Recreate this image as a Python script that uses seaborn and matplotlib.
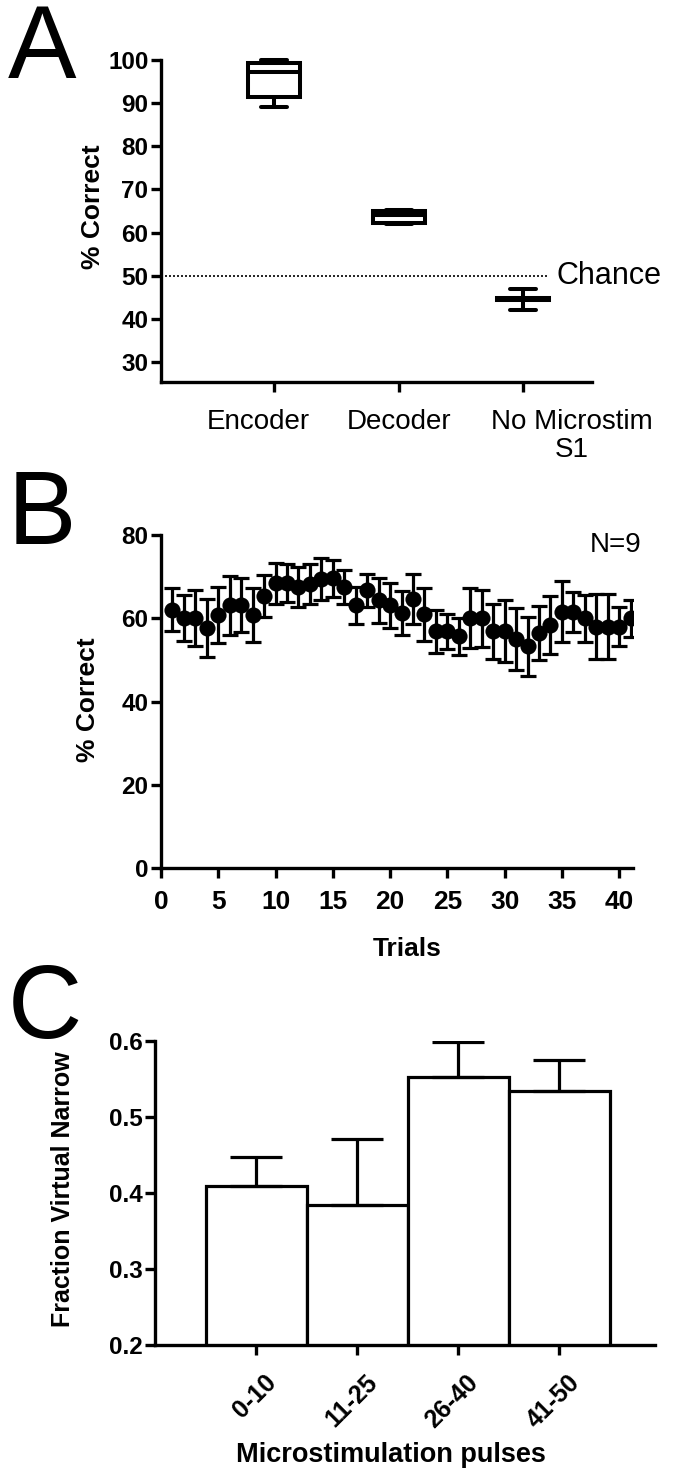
import matplotlib
matplotlib.use("Agg")
import matplotlib.pyplot as plt
import matplotlib.transforms as mtransforms
import numpy as np
import pandas as pd
import seaborn as sns

# -----------------------------
# Panel A: box plots of % correct
# -----------------------------
GROUPS = ["Encoder", "Decoder", "No Microstim\nS1"]
ENCODER_PCT = [89.0, 91.5, 97.2, 99.2, 100.0]
DECODER_PCT = [62.0, 62.2, 64.0, 65.0, 65.3]
NO_STIM_PCT = [42.0, 44.4, 44.6, 44.8, 47.0]
CHANCE = 50
A_YTICKS = [30, 40, 50, 60, 70, 80, 90, 100]

# -----------------------------
# Panel B: % correct per trial (mean +/- SEM)
# -----------------------------
TRIALS = list(range(1, 42))
PCT_MEAN = [62.1, 60.0, 60.0, 57.6, 60.8, 63.1, 63.1, 60.8, 65.3, 68.4,
            68.4, 67.5, 68.2, 69.4, 69.6, 67.5, 63.1, 66.7, 64.3, 63.1,
            61.2, 64.7, 61.0, 56.9, 56.9, 55.7, 60.0, 60.0, 56.9, 56.9,
            55.0, 53.3, 56.5, 58.4, 61.6, 61.6, 60.0, 58.0, 58.0, 58.0,
            60.0]
PCT_SEM = [5.1, 5.5, 6.7, 7.0, 6.8, 7.0, 6.5, 6.4, 5.0, 4.9,
           4.6, 4.8, 4.8, 5.0, 4.4, 4.0, 4.4, 3.9, 5.4, 5.5,
           5.3, 6.0, 6.4, 5.2, 4.2, 4.4, 7.2, 6.9, 6.6, 7.4,
           7.5, 7.1, 6.5, 6.9, 7.4, 4.8, 5.6, 7.8, 7.8, 4.7,
           4.4]
B_XTICKS = [0, 5, 10, 15, 20, 25, 30, 35, 40]
B_YTICKS = [0, 20, 40, 60, 80]
N_ANIMALS = 9

# -----------------------------
# Panel C: fraction virtual narrow vs pulses
# -----------------------------
PULSE_BINS = ["0-10", "11-25", "26-40", "41-50"]
FRAC_NARROW = [0.409, 0.384, 0.553, 0.534]
FRAC_SEM = [0.039, 0.087, 0.046, 0.041]
C_YTICKS = [0.2, 0.3, 0.4, 0.5, 0.6]

LW = 2.4
TICK_FS = 17.5
LABEL_FS = 19
# category label centres in panel A sit a bit off their ticks in the original
A_LABEL_X = [-0.13, 1.0, 2.39]


def style_axis(ax):
    sns.despine(ax=ax)
    for side in ["left", "bottom"]:
        ax.spines[side].set_linewidth(LW)
        ax.spines[side].set_color("black")
    ax.tick_params(axis="both", width=LW, length=7, labelsize=TICK_FS, pad=2,
                   color="black", labelcolor="black")
    for lab in ax.get_yticklabels():
        lab.set_fontweight("bold")


def panel_a(fig):
    ax = fig.add_axes([0.2392, 0.7405, 0.640, 0.2188])
    df = pd.DataFrame({
        "group": [GROUPS[0]] * len(ENCODER_PCT) + [GROUPS[1]] * len(DECODER_PCT)
        + [GROUPS[2]] * len(NO_STIM_PCT),
        "pct": ENCODER_PCT + DECODER_PCT + NO_STIM_PCT,
    })
    sns.boxplot(data=df, x="group", y="pct", order=GROUPS, ax=ax,
                width=0.42, whis=(0, 100), color="white", linecolor="black",
                linewidth=2.9, showfliers=False)
    for art in ax.lines + ax.patches:
        art.set_clip_on(False)

    ax.hlines(CHANCE, -0.91, 2.2, colors="black", linestyles=(0, (1.2, 1.2)), linewidth=1.2)
    ax.text(2.265, CHANCE, "Chance", fontsize=22, va="center", ha="left")

    ax.set_xlim(-0.91, 2.55)
    ax.set_ylim(25.4, 100)
    ax.set_yticks(A_YTICKS)
    ax.set_xlabel("")
    ax.set_ylabel("% Correct", fontsize=LABEL_FS, fontweight="bold")
    style_axis(ax)
    ax.tick_params(axis="x", length=7, labelbottom=False)
    for xpos, name in zip(A_LABEL_X, GROUPS):
        ax.text(xpos, -0.085, name, transform=ax.get_xaxis_transform(),
                fontsize=20, ha="center", va="top", multialignment="center",
                linespacing=1.1)
    ax.yaxis.set_label_coords(-0.13, 0.543)
    fig.text(0.012, 1 - 78 / 1472, "A", fontsize=74, va="baseline")


def panel_b(fig):
    ax = fig.add_axes([0.2392, 0.4103, 0.7013, 0.2262])
    ax.errorbar(TRIALS, PCT_MEAN, yerr=PCT_SEM, fmt="none", ecolor="black",
                elinewidth=2.3, capsize=5.8, capthick=2.3, zorder=2)
    sns.scatterplot(x=TRIALS, y=PCT_MEAN, ax=ax, color="black", s=135,
                    edgecolor="black", linewidth=0, zorder=3)
    ax.set_xlim(0, 41.2)
    ax.set_ylim(0, 80)
    ax.set_xticks(B_XTICKS)
    ax.set_yticks(B_YTICKS)
    ax.set_xlabel("Trials", fontsize=LABEL_FS, fontweight="bold")
    ax.set_ylabel("% Correct", fontsize=LABEL_FS, fontweight="bold")
    style_axis(ax)
    ax.tick_params(axis="x", labelsize=19, pad=9)
    for lab in ax.get_xticklabels():
        lab.set_fontweight("bold")
    ax.xaxis.set_label_coords(0.521, -0.207)
    ax.yaxis.set_label_coords(-0.129, 0.505)
    ax.text(1.019, 0.949, f"N={N_ANIMALS}", transform=ax.transAxes,
            fontsize=20, ha="right", va="baseline")
    fig.text(0.012, 1 - 544 / 1472, "B", fontsize=74, va="baseline")


def panel_c(fig):
    ax = fig.add_axes([0.2303, 0.0863, 0.743, 0.2065])
    sns.barplot(x=PULSE_BINS, y=FRAC_NARROW, ax=ax, color="white", saturation=1,
                edgecolor="black", linewidth=2.3, width=1.0, errorbar=None)
    ax.errorbar(range(len(PULSE_BINS)), FRAC_NARROW,
                yerr=[np.zeros(len(FRAC_SEM)), FRAC_SEM], fmt="none",
                ecolor="black", elinewidth=2.3, capsize=19, capthick=2.3)
    ax.set_xlim(-1.0, 3.95)
    ax.set_ylim(0.2, 0.6)
    ax.set_yticks(C_YTICKS)
    ax.set_xlabel("Microstimulation pulses", fontsize=LABEL_FS + 0.5, fontweight="bold")
    ax.set_ylabel("Fraction Virtual Narrow", fontsize=18, fontweight="bold")
    style_axis(ax)
    ax.tick_params(axis="x", labelsize=18, pad=11)
    shift = mtransforms.ScaledTranslation(0.08, 0, fig.dpi_scale_trans)
    for lab in ax.get_xticklabels():
        lab.set_fontweight("bold")
        lab.set_rotation(45)
        lab.set_ha("right")
        lab.set_va("top")
        lab.set_rotation_mode("anchor")
        lab.set_transform(lab.get_transform() + shift)
    ax.xaxis.set_label_coords(0.472, -0.319)
    ax.yaxis.set_label_coords(-0.16, 0.513)
    fig.text(0.012, 1 - 1038 / 1472, "C", fontsize=74, va="baseline")


def main():
    sns.set_style("ticks")
    plt.rcParams["font.family"] = ["Liberation Sans", "DejaVu Sans"]
    plt.rcParams["text.color"] = "black"
    plt.rcParams["axes.labelcolor"] = "black"
    fig = plt.figure(figsize=(6.73, 14.72), dpi=100)
    panel_a(fig)
    panel_b(fig)
    panel_c(fig)
    fig.savefig("out.png", dpi=100)
    plt.close(fig)


if __name__ == "__main__":
    main()
